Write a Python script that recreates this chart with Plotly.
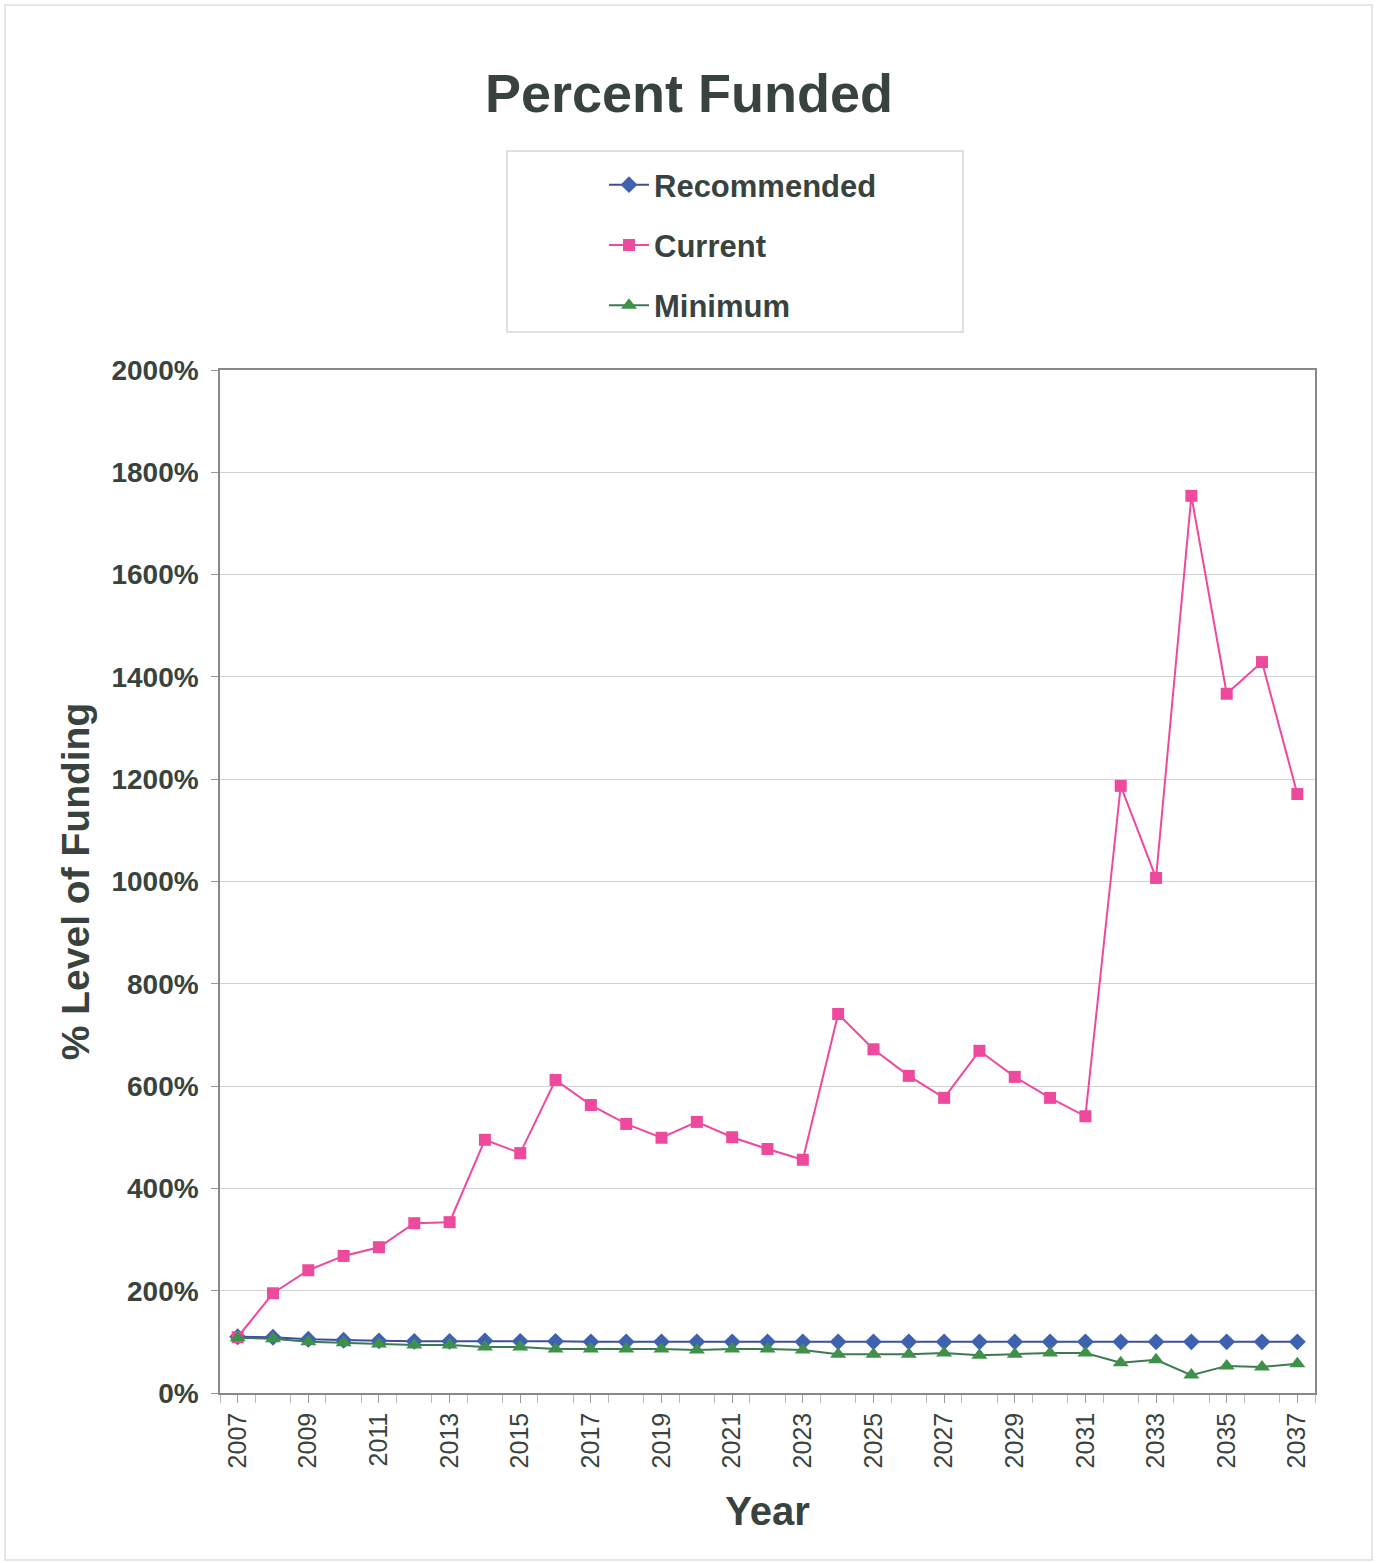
import plotly.graph_objects as go

years = list(range(2007, 2038))
recommended = [110, 109, 105, 103, 102, 101, 101, 102, 101, 101, 100, 100, 100, 100, 100, 100,
               100, 100, 100, 100, 100, 100, 100, 100, 100, 100, 100, 100, 100, 100, 100]
current = [109, 195, 240, 268, 285, 332, 334, 495, 469, 612, 563, 526, 499, 530, 500, 477,
           456, 741, 672, 620, 577, 669, 618, 577, 541, 1187, 1007, 1754, 1367, 1429, 1171]
minimum = [108, 106, 100, 98, 96, 94, 94, 90, 90, 86, 86, 86, 86, 84, 86, 86,
           84, 76, 76, 76, 78, 74, 76, 78, 78, 59, 65, 35, 53, 51, 57]
series_names = ["Recommended", "Current", "Minimum"]
y_ticks = [0, 200, 400, 600, 800, 1000, 1200, 1400, 1600, 1800, 2000]

W, H = 1378, 1563
L, R, T, B = 220, 1315, 370, 1393

def px_x(p):
    return (p - L) / (R - L)

def px_y(p):
    return (B - p) / (B - T)

text_col = "#39433e"
font_fam = "Liberation Sans, Arial, sans-serif"

fig = go.Figure()
fig.add_trace(go.Scatter(
    x=years, y=recommended, name=series_names[0], mode="lines+markers",
    line=dict(color="#3d4f9c", width=2),
    marker=dict(symbol="diamond", size=13, color="#3f62b0"),
    legendgroup="a"))
fig.add_trace(go.Scatter(
    x=years, y=current, name=series_names[1], mode="lines+markers",
    line=dict(color="#f0489c", width=2),
    marker=dict(symbol="square", size=12, color="#ee4a9d"),
    legendgroup="b"))
fig.add_trace(go.Scatter(
    x=years, y=minimum, name=series_names[2], mode="lines+markers",
    line=dict(color="#3d7a52", width=2),
    marker=dict(symbol="triangle-up", size=14, color="#3f9048"),
    legendgroup="c"))

fig.update_layout(
    width=W, height=H,
    margin=dict(l=L, r=W - R, t=T, b=H - B, autoexpand=False),
    paper_bgcolor="white", plot_bgcolor="white",
    font=dict(family=font_fam, color=text_col),
    title=dict(text="Percent Funded", x=0.5, xref="container", xanchor="center",
               y=1 - 93 / H, yref="container", yanchor="middle",
               font=dict(size=54, weight="bold", color=text_col)),
    legend=dict(xref="paper", yref="paper",
                x=px_x(604), xanchor="left", y=px_y(158), yanchor="top",
                bgcolor="rgba(0,0,0,0)", borderwidth=0,
                font=dict(size=31, weight="bold", color=text_col),
                tracegroupgap=17, itemwidth=40),
    showlegend=True,
    xaxis=dict(range=[2006.5, 2037.5], tickmode="array",
               tickvals=years[::2], ticktext=[str(y) for y in years[::2]],
               tickangle=-90, tickfont=dict(size=25, color=text_col),
               ticks="outside", ticklen=8, tickcolor="#999999",
               minor=dict(tickmode="linear", tick0=2006.5, dtick=1, ticks="outside",
                          ticklen=8, tickcolor="#bbbbbb"),
               showgrid=False, zeroline=False,
               showline=True, linecolor="#888888", linewidth=1.5, mirror=True,
               title=dict(text="Year", font=dict(size=40, weight="bold", color=text_col),
                          standoff=30)),
    yaxis=dict(range=[0, 2000], tickmode="array", tickvals=y_ticks,
               ticktext=[f"{v}%" for v in y_ticks],
               tickfont=dict(size=28, weight="bold", color=text_col),
               ticks="outside", ticklen=7, tickcolor="#999999",
               ticklabelstandoff=7,
               showgrid=True, gridcolor="#cfd3d6", gridwidth=1,
               zeroline=False,
               showline=True, linecolor="#888888", linewidth=1.5, mirror=True,
               title=dict(text="% Level of Funding",
                          font=dict(size=39, weight="bold", color=text_col),
                          standoff=10)),
)

# legend box
fig.add_shape(type="rect", xref="paper", yref="paper",
              x0=px_x(507), x1=px_x(963), y0=px_y(332), y1=px_y(151),
              line=dict(color="#d3d8da", width=1.5), fillcolor="rgba(0,0,0,0)", layer="below")
# outer chart border
fig.add_shape(type="rect", xref="paper", yref="paper",
              x0=px_x(5), x1=px_x(1372), y0=px_y(1560), y1=px_y(5),
              line=dict(color="#d7e0e6", width=1.5), fillcolor="rgba(0,0,0,0)", layer="below")

fig.write_html("out.html")
